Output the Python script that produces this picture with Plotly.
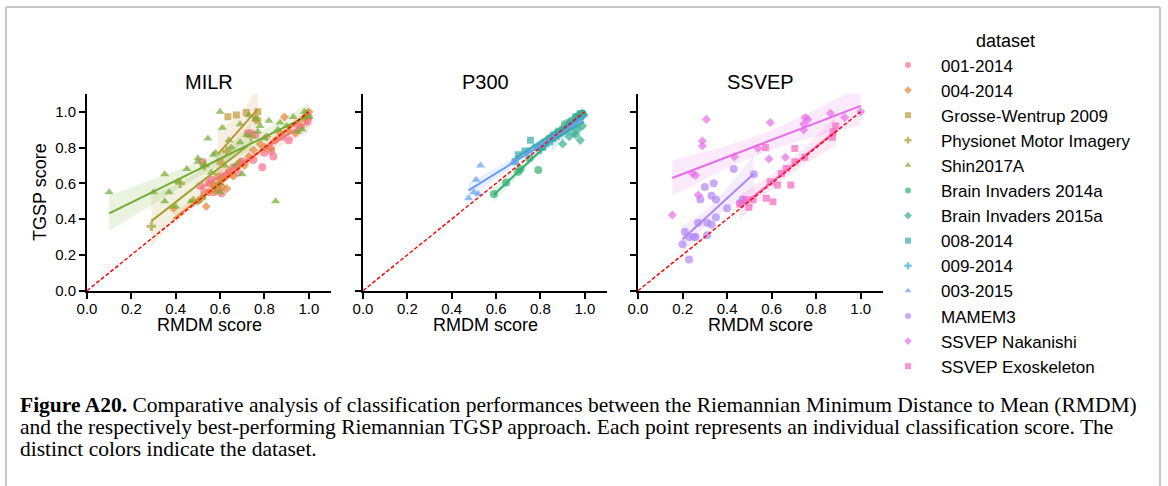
import numpy as np
import plotly.graph_objects as go

# ---------------- MILR ----------------
milr_001_2014_x = [0.51, 0.53, 0.55, 0.57, 0.59, 0.62, 0.66, 0.70, 0.725, 0.76, 0.75, 0.79, 0.83,
                   0.84, 0.91, 0.995, 1.0, 0.68, 0.64, 0.56, 0.80, 0.88, 0.95, 0.52, 0.607, 0.74]
milr_001_2014_y = [0.585, 0.55, 0.60, 0.55, 0.57, 0.64, 0.69, 0.72, 0.88, 0.87, 0.73, 0.69, 0.78,
                   0.75, 0.84, 0.944, 0.97, 0.66, 0.65, 0.62, 0.77, 0.86, 0.93, 0.72, 0.544, 0.88]

milr_004_2014_x = [0.39, 0.50, 0.52, 0.537, 0.55, 0.57, 0.60, 0.61, 0.63, 0.64, 0.66, 0.69, 0.71,
                   0.73, 0.75, 0.78, 0.80, 0.81, 0.83, 0.85, 0.87, 0.89, 0.91, 0.94, 0.965, 0.98,
                   1.0, 0.62, 0.58]
milr_004_2014_y = [0.46, 0.50, 0.52, 0.47, 0.55, 0.59, 0.61, 0.58, 0.57, 0.67, 0.64, 0.72, 0.70,
                   0.75, 0.786, 0.82, 0.80, 0.86, 0.795, 0.84, 0.88, 0.97, 0.89, 0.88, 0.916, 0.96,
                   1.0, 0.63, 0.56]

milr_grosse_x = [0.59, 0.60, 0.635, 0.673, 0.718, 0.76, 0.77, 0.77]
milr_grosse_y = [0.64, 0.72, 0.972, 0.981, 0.996, 0.96, 1.0, 0.95]

milr_physionet_x = [0.29, 0.42, 0.48, 0.53, 0.58, 0.63, 0.68, 0.74]
milr_physionet_y = [0.36, 0.60, 0.50, 0.70, 0.58, 0.78, 0.70, 0.86]

milr_shin_x = [0.10, 0.30, 0.35, 0.35, 0.37, 0.41, 0.45, 0.50, 0.50, 0.50, 0.545, 0.57, 0.58,
               0.60, 0.61, 0.60, 0.62, 0.64, 0.65, 0.67, 0.69, 0.69, 0.70, 0.72, 0.73, 0.76,
               0.77, 0.78, 0.80, 0.82, 0.85, 0.86, 0.87, 0.90, 0.95, 0.97, 0.53, 0.56, 0.60,
               0.99, 1.0, 0.93, 0.98, 0.40, 0.47, 0.52]
milr_shin_y = [0.55, 0.55, 0.65, 0.50, 0.55, 0.61, 0.68, 0.74, 0.72, 0.50, 0.85, 0.76, 0.77,
               1.00, 0.91, 0.55, 0.70, 0.84, 0.80, 0.70, 0.93, 0.83, 0.65, 0.87, 0.98, 0.96,
               0.89, 0.92, 0.85, 0.95, 0.50, 0.90, 0.94, 0.92, 0.89, 0.90, 0.70, 0.66, 0.60,
               0.99, 0.97, 0.97, 1.0, 0.47, 0.50, 0.52]

# ---------------- P300 ----------------
p300_bi2014a_x = [0.59, 0.645, 0.70, 0.71, 0.79, 0.75, 0.80, 0.84, 0.88, 0.91, 0.94, 0.96, 0.98, 0.99]
p300_bi2014a_y = [0.54, 0.605, 0.665, 0.68, 0.674, 0.74, 0.80, 0.85, 0.89, 0.93, 0.95, 0.97, 0.98, 0.99]

p300_bi2015a_x = [0.90, 0.93, 0.95, 0.96, 0.98, 0.97, 0.99, 0.98, 0.99, 0.96, 0.92, 0.88, 0.85,
                  0.94, 0.97, 0.995]
p300_bi2015a_y = [0.82, 0.86, 0.88, 0.87, 0.84, 0.90, 0.92, 0.97, 0.99, 0.95, 0.90, 0.88, 0.86,
                  0.93, 0.98, 0.98]

p300_008_2014_x = [0.686, 0.70, 0.73, 0.755, 0.78, 0.82, 0.86, 0.90, 0.93, 0.96, 0.98]
p300_008_2014_y = [0.72, 0.76, 0.78, 0.84, 0.80, 0.83, 0.87, 0.90, 0.94, 0.97, 0.99]

p300_009_2014_x = [0.80, 0.82, 0.85, 0.88, 0.92, 0.95, 0.97, 0.99]
p300_009_2014_y = [0.79, 0.81, 0.84, 0.87, 0.91, 0.93, 0.96, 0.98]

p300_003_2015_x = [0.476, 0.50, 0.51, 0.52, 0.53, 0.68, 0.75, 0.80, 0.86, 0.90, 0.95, 0.98]
p300_003_2015_y = [0.516, 0.55, 0.62, 0.54, 0.70, 0.72, 0.78, 0.81, 0.86, 0.88, 0.92, 0.95]

# ---------------- SSVEP ----------------
ssvep_mamem3_x = [0.20, 0.21, 0.229, 0.229, 0.259, 0.27, 0.28, 0.30, 0.31, 0.31, 0.33, 0.33,
                  0.34, 0.35, 0.35, 0.40, 0.43, 0.52, 0.25, 0.46, 0.47]
ssvep_mamem3_y = [0.26, 0.33, 0.175, 0.30, 0.30, 0.38, 0.51, 0.58, 0.38, 0.31, 0.53, 0.37,
                  0.60, 0.51, 0.41, 0.46, 0.68, 0.65, 0.30, 0.49, 0.51]

ssvep_nakanishi_x = [0.154, 0.307, 0.289, 0.289, 0.244, 0.259, 0.271, 0.433, 0.539, 0.594,
                     0.588, 0.662, 0.744, 0.75, 0.763, 0.744, 0.864, 0.928, 1.0]
ssvep_nakanishi_y = [0.423, 0.957, 0.836, 0.808, 0.655, 0.644, 0.534, 0.749, 0.795, 0.939,
                     0.736, 0.745, 0.931, 0.968, 0.957, 0.898, 0.991, 0.968, 1.0]

ssvep_exo_x = [0.457, 0.484, 0.498, 0.516, 0.572, 0.704, 0.704, 0.666, 0.644, 0.594, 0.626,
               0.686, 0.749, 0.576, 0.606, 0.873, 0.876, 0.888]
ssvep_exo_y = [0.484, 0.51, 0.466, 0.51, 0.80, 0.795, 0.72, 0.683, 0.655, 0.609, 0.59,
               0.59, 0.745, 0.516, 0.497, 0.857, 0.888, 0.92]

panel_titles = ["MILR", "P300", "SSVEP"]
tick_vals = [0.0, 0.2, 0.4, 0.6, 0.8, 1.0]
tick_text = ["0.0", "0.2", "0.4", "0.6", "0.8", "1.0"]

# (legend name, panel index, marker symbol, colour, x, y)
datasets = [
    ("001-2014", 0, "circle", "#f77189", milr_001_2014_x, milr_001_2014_y),
    ("004-2014", 0, "diamond", "#e38535", milr_004_2014_x, milr_004_2014_y),
    ("Grosse-Wentrup 2009", 0, "square", "#c29533", milr_grosse_x, milr_grosse_y),
    ("Physionet Motor Imagery", 0, "cross", "#a3a131", milr_physionet_x, milr_physionet_y),
    ("Shin2017A", 0, "triangle-up", "#70ac31", milr_shin_x, milr_shin_y),
    ("Brain Invaders 2014a", 1, "circle", "#32b06d", p300_bi2014a_x, p300_bi2014a_y),
    ("Brain Invaders 2015a", 1, "diamond", "#35af94", p300_bi2015a_x, p300_bi2015a_y),
    ("008-2014", 1, "square", "#37abb2", p300_008_2014_x, p300_008_2014_y),
    ("009-2014", 1, "cross", "#39a7cd", p300_009_2014_x, p300_009_2014_y),
    ("003-2015", 1, "triangle-up", "#699cf2", p300_003_2015_x, p300_003_2015_y),
    ("MAMEM3", 2, "circle", "#b086f4", ssvep_mamem3_x, ssvep_mamem3_y),
    ("SSVEP Nakanishi", 2, "diamond", "#e76ce8", ssvep_nakanishi_x, ssvep_nakanishi_y),
    ("SSVEP Exoskeleton", 2, "square", "#f566bf", ssvep_exo_x, ssvep_exo_y),
]

marker_sizes = {"circle": 8, "diamond": 7, "square": 7, "cross": 8, "triangle-up": 8}
legend_sizes = {"circle": 6, "diamond": 6, "square": 6, "cross": 6, "triangle-up": 6}

W, H = 1168, 486
FONT = "Liberation Sans, Arial, sans-serif"


def px_x(v):
    return v / W


def px_y(v):
    return 1 - v / H


def rgba(hex_color, a):
    h = hex_color.lstrip("#")
    r, g, b = int(h[0:2], 16), int(h[2:4], 16), int(h[4:6], 16)
    return f"rgba({r},{g},{b},{a})"


def t_quantile(df):
    # Cornish-Fisher expansion of the 97.5% Student t quantile
    z = 1.959964
    return (z + (z ** 3 + z) / (4 * df)
            + (5 * z ** 5 + 16 * z ** 3 + 3 * z) / (96 * df ** 2))


def fit_with_band(x, y, n_grid=100):
    x = np.asarray(x, float)
    y = np.asarray(y, float)
    n = len(x)
    slope, intercept = np.polyfit(x, y, 1)
    resid = y - (slope * x + intercept)
    s = np.sqrt(np.sum(resid ** 2) / (n - 2))
    xbar = x.mean()
    sxx = np.sum((x - xbar) ** 2)
    grid = np.linspace(x.min(), x.max(), n_grid)
    fit = slope * grid + intercept
    half = t_quantile(n - 2) * s * np.sqrt(1.0 / n + (grid - xbar) ** 2 / sxx)
    return grid, fit, fit - half, fit + half


x_domains = [(87, 331), (363, 607), (638, 883)]
y_domain = [px_y(290.7), px_y(93.8)]

fig = go.Figure()

axis_names = [("x", "y"), ("x2", "y2"), ("x3", "y3")]

# confidence bands
for name, p, sym, col, xs, ys in datasets:
    xa, ya = axis_names[p]
    g, f, lo, hi = fit_with_band(xs, ys)
    fig.add_trace(go.Scatter(
        x=np.concatenate([g, g[::-1]]), y=np.concatenate([hi, lo[::-1]]),
        fill="toself", fillcolor=rgba(col, 0.15), line=dict(width=0),
        mode="lines", hoverinfo="skip", showlegend=False, xaxis=xa, yaxis=ya))

# scatter points
for name, p, sym, col, xs, ys in datasets:
    xa, ya = axis_names[p]
    fig.add_trace(go.Scatter(
        x=xs, y=ys, mode="markers", name=name, legendgroup=name, showlegend=False,
        marker=dict(symbol=sym, size=marker_sizes[sym], color=col, opacity=0.7,
                    line=dict(width=0)),
        xaxis=xa, yaxis=ya))

# regression lines
for name, p, sym, col, xs, ys in datasets:
    xa, ya = axis_names[p]
    g, f, lo, hi = fit_with_band(xs, ys)
    fig.add_trace(go.Scatter(
        x=g, y=f, mode="lines", line=dict(color=col, width=2),
        hoverinfo="skip", showlegend=False, xaxis=xa, yaxis=ya))

# identity reference line in each panel
for xa, ya in axis_names:
    fig.add_trace(go.Scatter(
        x=[0, 1], y=[0, 1], mode="lines",
        line=dict(color="#ff0000", width=1.4, dash="4px,2px"),
        hoverinfo="skip", showlegend=False, xaxis=xa, yaxis=ya))

# legend entries (smaller symbols than the plotted points)
for name, p, sym, col, xs, ys in datasets:
    fig.add_trace(go.Scatter(
        x=[None], y=[None], mode="markers", name=name, legendgroup=name,
        marker=dict(symbol=sym, size=legend_sizes[sym], color=col, opacity=0.7,
                    line=dict(width=0)),
        xaxis="x", yaxis="y"))

axis_common = dict(
    range=[0, 1.1], showgrid=False, zeroline=False, showline=True, automargin=False,
    linecolor="black", linewidth=2, ticks="outside", ticklen=6, tickwidth=2,
    tickcolor="black", tickvals=tick_vals, ticktext=tick_text,
    tickfont=dict(family=FONT, size=15, color="black"),
)

layout_axes = {}
for i, (a, b) in enumerate(x_domains):
    sfx = "" if i == 0 else str(i + 1)
    layout_axes["xaxis" + sfx] = dict(axis_common, domain=[px_x(a), px_x(b)],
                                      anchor="y" + sfx, ticklabelstandoff=-3)
    layout_axes["yaxis" + sfx] = dict(axis_common, domain=y_domain, anchor="x" + sfx,
                                      showticklabels=(i == 0))

annotations = []
for i, (a, b) in enumerate(x_domains):
    cx = px_x((a + b) / 2)
    annotations.append(dict(text=panel_titles[i], x=cx, y=px_y(82), xref="paper", yref="paper",
                            showarrow=False, xanchor="center", yanchor="middle",
                            font=dict(family=FONT, size=20, color="black")))
    annotations.append(dict(text="RMDM score", x=cx, y=px_y(325), xref="paper", yref="paper",
                            showarrow=False, xanchor="center", yanchor="middle",
                            font=dict(family=FONT, size=18, color="black")))
annotations.append(dict(text="TGSP score", x=px_x(40), y=px_y(192), xref="paper", yref="paper",
                        showarrow=False, textangle=-90, xanchor="center", yanchor="middle",
                        font=dict(family=FONT, size=18, color="black")))

caption_lines = [
    "<b>Figure A20.</b> Comparative analysis of classification performances between the "
    "Riemannian Minimum Distance to Mean (RMDM)",
    "and the respectively best-performing Riemannian TGSP approach. Each point represents an "
    "individual classification score. The",
    "distinct colors indicate the dataset.",
]
caption_rows = [405, 427, 449]
for line, row in zip(caption_lines, caption_rows):
    annotations.append(dict(text=line, x=px_x(18), y=px_y(row), xref="paper",
                            yref="paper", showarrow=False, xanchor="left", yanchor="middle",
                            font=dict(family="Liberation Serif, Times New Roman, serif",
                                      size=21.5, color="black")))

# page frame
frame = dict(type="line", xref="paper", yref="paper", line=dict(color="#c8c8c8", width=2))
shapes = [
    dict(frame, x0=px_x(6), x1=px_x(1160), y0=px_y(7), y1=px_y(7)),
    dict(frame, x0=px_x(6), x1=px_x(6), y0=px_y(7), y1=0),
    dict(frame, x0=px_x(1160), x1=px_x(1160), y0=px_y(7), y1=0),
]

fig.update_layout(
    width=W, height=H,
    margin=dict(l=0, r=0, t=0, b=0, pad=0, autoexpand=False),
    paper_bgcolor="white", plot_bgcolor="white",
    font=dict(family=FONT, color="black"),
    annotations=annotations, shapes=shapes,
    legend=dict(
        title=dict(text="dataset", side="top center", font=dict(family=FONT, size=18)),
        font=dict(family=FONT, size=17, color="black"),
        x=px_x(875), xanchor="left", y=px_y(24), yanchor="top",
        itemwidth=56, tracegroupgap=0, bgcolor="rgba(0,0,0,0)",
    ),
    **layout_axes,
)

fig.write_html("out.html")
